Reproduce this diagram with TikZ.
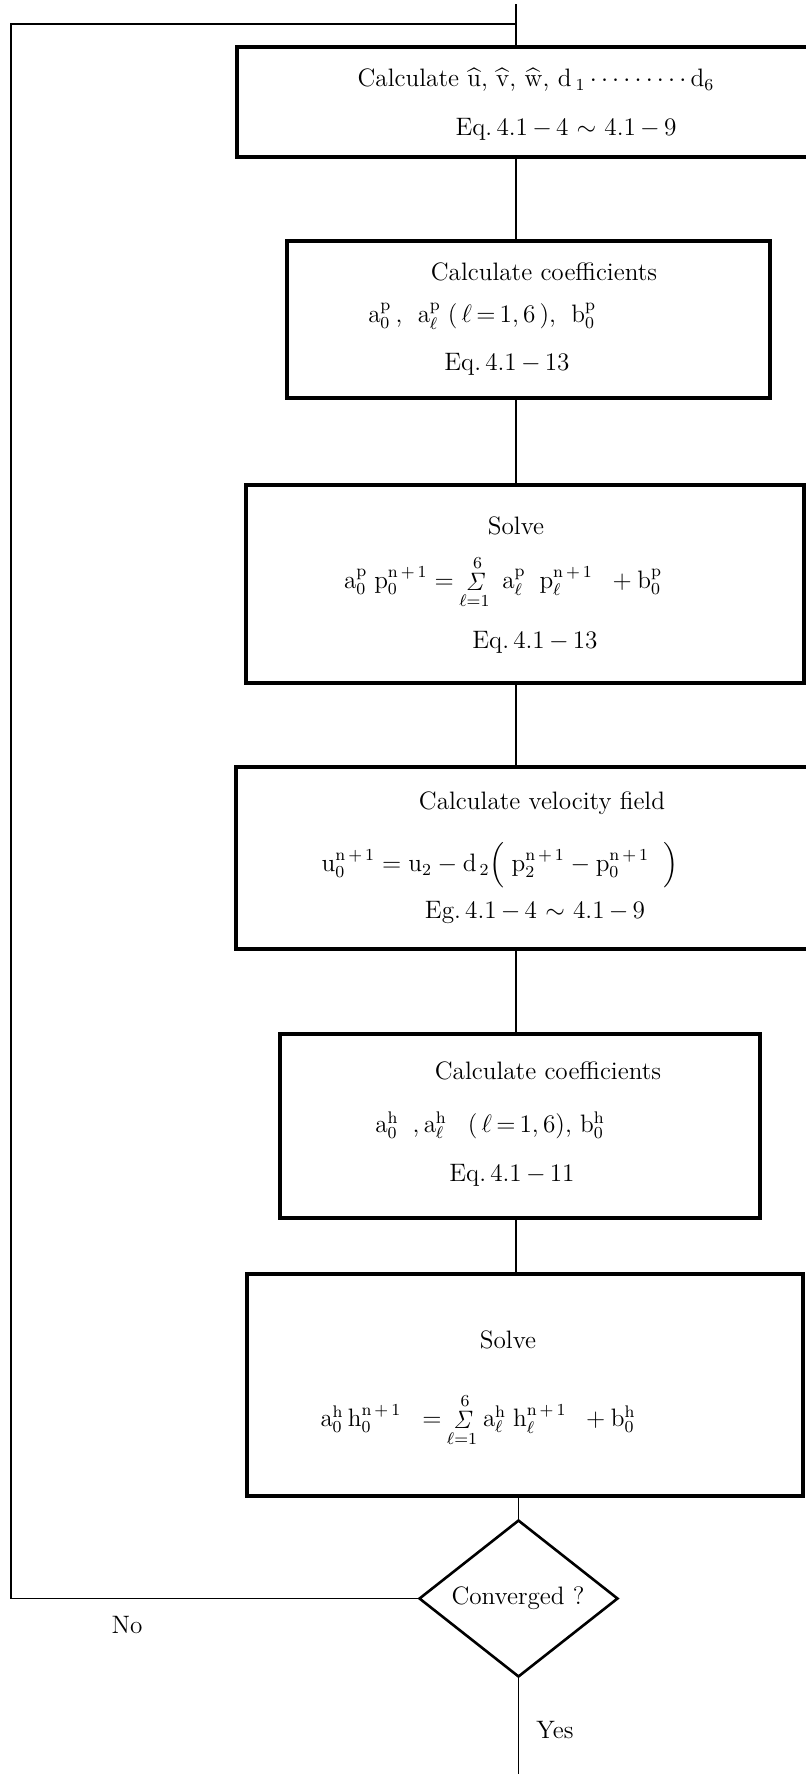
\documentclass[tikz,border=0pt]{standalone}
\usepackage{amsmath}
\usetikzlibrary{shapes.geometric}
\tikzset{
  procbox/.style={draw, line width=1.6pt, inner sep=0pt},
  conn/.style={line width=0.65pt},
  loopl/.style={line width=0.85pt},
  decision/.style={draw, diamond, line width=1.3pt, inner sep=0pt,
                   minimum width=99.5pt, minimum height=78.5pt},
  lbl/.style={font=\fontsize{12}{14}\selectfont, inner sep=0pt, transform shape, scale=1.05},
}
\newcommand{\rmx}[1]{\mathrm{#1}}
\newcommand{\Sg}{\mathop{\mathit{\Sigma}}\limits}
\newcommand{\np}{\rmx{n}\,{+}\,\rmx{1}}
\begin{document}
\begin{tikzpicture}[x=0.5pt,y=-0.5pt]
\useasboundingbox (0,0) rectangle (806,1774);
\clip (0,0) rectangle (806,1774);
\fill[white] (0,0) rectangle (806,1774);

% boxes
\node[procbox, minimum width=287.5pt, minimum height=55pt]   (b1) at (524.5,102) {};
\node[procbox, minimum width=241.5pt, minimum height=78.5pt] (b2) at (528.5,319.5) {};
\node[procbox, minimum width=279pt,   minimum height=99pt]   (b3) at (525,584) {};
\node[procbox, minimum width=288pt,   minimum height=91pt]   (b4) at (524,858) {};
\node[procbox, minimum width=240pt,   minimum height=92pt]   (b5) at (520,1126) {};
\node[procbox, minimum width=278pt,   minimum height=111pt]  (b6) at (525,1385) {};
\node[decision] (dia) at (518.5,1598.5) {};
\node[lbl] (diat) at (518,1598) {Converged ?};

% texts box 1
\node[lbl] (b1a) at (536,80) {Calculate $\widehat{\rmx{u}}$, $\widehat{\rmx{v}}$, $\widehat{\rmx{w}}$, d\,$_{1}\cdots\cdots\cdots\,$d$_{6}$};
\node[lbl] (b1b) at (566,129) {Eq.\,4.1\,$-$\,4 $\sim$ 4.1\,$-$\,9};
% box 2
\node[lbl] (b2a) at (544,272) {Calculate coefficients};
\node[lbl] (b2b) at (482,316) {$\rmx{a}^{\rmx{p}}_{0}$\,,\; $\rmx{a}^{\rmx{p}}_{\ell}$\;(\,$\ell$\,=\,1,\,6\,),\; $\rmx{b}^{\rmx{p}}_{0}$};
\node[lbl] (b2c) at (507,364) {Eq.\,4.1\,$-$\,13};
% box 3
\node[lbl] (b3a) at (516,526) {Solve};
\node[lbl] (b3b) at (503,582) {$\rmx{a}^{\rmx{p}}_{0}\;\rmx{p}^{\np}_{0} = \Sg_{\ell=1}^{6}\;\rmx{a}^{\rmx{p}}_{\ell}\;\;\rmx{p}^{\np}_{\ell}\;\; + \rmx{b}^{\rmx{p}}_{0}$};
\node[lbl] (b3c) at (535,642) {Eq.\,4.1\,$-$\,13};
% box 4
\node[lbl] (b4a) at (542,803) {Calculate velocity field};
\node[lbl] (b4b) at (500,865) {$\rmx{u}^{\np}_{0} = \rmx{u}_{2} - \rmx{d}_{\,2}\Bigl(\;\rmx{p}^{\np}_{2} - \rmx{p}^{\np}_{0}\;\;\Bigr)$};
\node[lbl] (b4c) at (535,912) {Eg.\,4.1\,$-$\,4 $\sim$ 4.1\,$-$\,9};
% box 5
\node[lbl] (b5a) at (548,1071) {Calculate coefficients};
\node[lbl] (b5b) at (490,1125) {$\rmx{a}^{\rmx{h}}_{0}$\;\;,\,$\rmx{a}^{\rmx{h}}_{\ell}$\;\;\;(\,$\ell$\,=\,1,\,6), $\rmx{b}^{\rmx{h}}_{0}$};
\node[lbl] (b5c) at (512,1175) {Eq.\,4.1\,$-$\,11};
% box 6
\node[lbl] (b6a) at (508,1340) {Solve};
\node[lbl] (b6b) at (478,1420) {$\rmx{a}^{\rmx{h}}_{0}\,\rmx{h}^{\np}_{0}\;\; = \Sg_{\ell=1}^{6}\rmx{a}^{\rmx{h}}_{\ell}\;\rmx{h}^{\np}_{\ell}\;\; + \rmx{b}^{\rmx{h}}_{0}$};

% labels
\node[lbl] (no) at (127,1625) {No};
\node[lbl] (yes) at (555,1730) {Yes};

% coordinates
\coordinate (top) at (516,4);
\coordinate (join) at (516,24);
\coordinate (ltop) at (11,24);
\coordinate (bot) at (518.5,1774);

% connectors
\draw[conn] (top) -- (b1.north -| top);
\draw[conn] (b1.south -| top) -- (b2.north -| top);
\draw[conn] (b2.south -| top) -- (b3.north -| top);
\draw[conn] (b3.south -| top) -- (b4.north -| top);
\draw[conn] (b4.south -| top) -- (b5.north -| top);
\draw[conn] (b5.south -| top) -- (b6.north -| top);
\draw[conn] (b6.south -| dia) -- (dia.north);
\draw[conn] (dia.south) -- (bot);
\draw[loopl] (dia.west) -| (ltop) -- (join);
\end{tikzpicture}
\end{document}
